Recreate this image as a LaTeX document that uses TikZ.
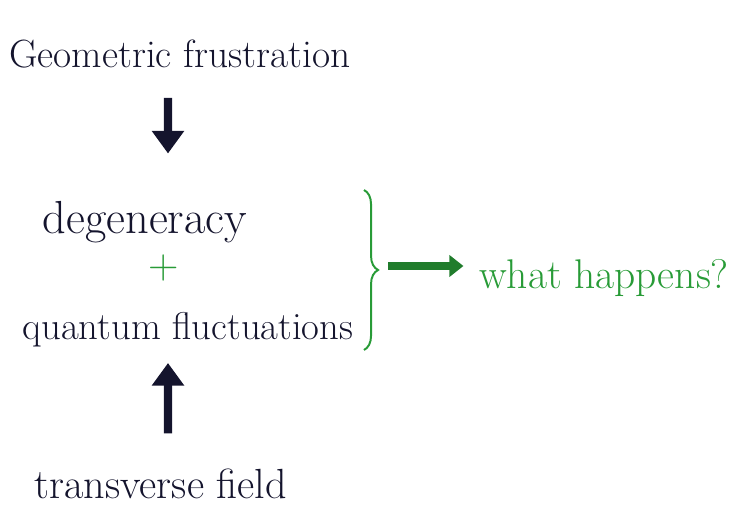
\documentclass[tikz,border=0pt]{standalone}
\usepackage{amssymb}
\usepackage{amsmath}
\usepackage{tikz}
\usetikzlibrary{arrows.meta,decorations.pathreplacing,calc}

\definecolor{inkblue}{RGB}{20,20,45}
\definecolor{inkgreen}{RGB}{40,155,55}

\begin{document}
\begin{tikzpicture}[
	word/.style={text=inkblue, inner sep=1pt},
	greenword/.style={text=inkgreen, inner sep=1pt},
	bigarrow/.style={line width=6pt, inkblue, -{Triangle[length=16pt,width=22pt]}},
	greenarrow/.style={line width=5pt, inkgreen!80!black, -{Triangle[length=10pt,width=15pt]}}
	]
	\useasboundingbox (0,0) rectangle (18.5,12.9);	%740x516

	%main chain
	\node[word] (geo) at (4.5,11.55) {\fontsize{28}{30}\selectfont Geometric frustration};
	\node[word] (deg) at (3.62,7.35) {\fontsize{33}{36}\selectfont degeneracy};
	\node[greenword] (plus) at (4.1,6.2) {\fontsize{30}{32}\selectfont +};
	\node[word] (quant) at (4.7,4.65) {\fontsize{27.5}{30}\selectfont quantum fluctuations};
	\node[word] (field) at (4.02,0.8) {\fontsize{30}{32}\selectfont transverse field};

	\draw[bigarrow] ($(geo.south)+(-0.3,-0.7)$) -- ($(deg.north)+(0.58,1.15)$);
	\draw[bigarrow] ($(field.north)+(0.18,0.85)$) -- ($(quant.south)+(-0.5,-0.35)$);

	%brace and outcome
	\coordinate (brtop) at (9.1,8.15);
	\coordinate (brbot) at (9.1,4.15);
	\draw[inkgreen, line width=1.4pt, decorate, decoration={brace, amplitude=10pt}] (brtop) -- (brbot);
	\coordinate (brtip) at ($(brtop)!0.5!(brbot)+(0.6,0.1)$);

	\node[greenword] (what) at (15.1,5.95) {\fontsize{29.5}{32}\selectfont what happens?};
	\coordinate (arrend) at ($(brtip -| what.west)+(-0.35,0)$);
	\draw[greenarrow] (brtip) -- (arrend);
\end{tikzpicture}
\end{document}
